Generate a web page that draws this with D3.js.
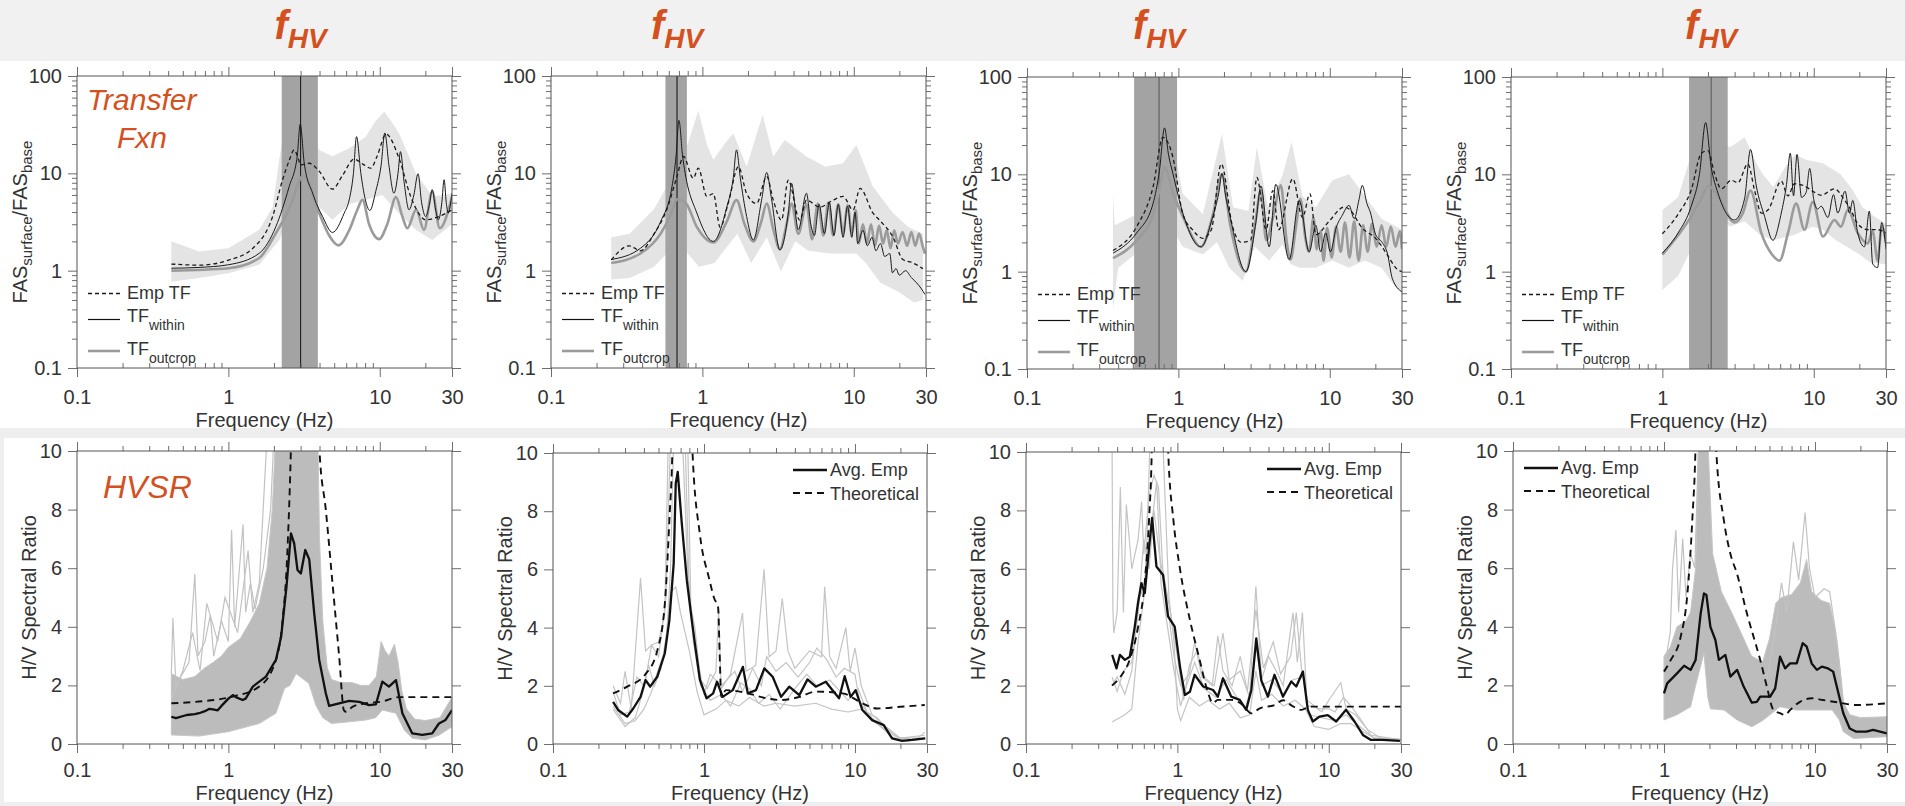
<!DOCTYPE html>
<html>
<head>
<meta charset="utf-8">
<script src="https://cdn.jsdelivr.net/npm/d3@7"></script>
<style>
  html, body { margin: 0; padding: 0; background: #fff; }
  svg { display: block; font-family: "Liberation Sans", Arial, Helvetica, sans-serif; }
</style>
</head>
<body>
<svg id="fig" width="1905" height="806"></svg>
<script>
// ---------- axis ticks ----------
const freqTicks = [0.1, 1, 10, 30];
const freqTickLabels = ["0.1", "1", "10", "30"];
const freqMinor = [0.2, 0.3, 0.4, 0.5, 0.6, 0.7, 0.8, 0.9, 2, 3, 4, 5, 6, 7, 8, 9, 20];
const tfTicks = [0.1, 1, 10, 100];
const tfTickLabels = ["0.1", "1", "10", "100"];
const tfMinor = [0.2, 0.3, 0.4, 0.5, 0.6, 0.7, 0.8, 0.9, 2, 3, 4, 5, 6, 7, 8, 9, 20, 30, 40, 50, 60, 70, 80, 90];
const hvTicks = [0, 2, 4, 6, 8, 10];
const hvTickLabels = ["0", "2", "4", "6", "8", "10"];

// ---------- site 1 : transfer functions [Hz, FAS ratio] ----------
const tf1Emp = [[0.42,1.17],[0.64,1.14],[1.0,1.28],[1.45,1.7],[1.96,3.6],[2.28,8.57],[2.52,13.5],[2.72,17.4],[2.86,15],[3.01,12.2],[3.42,12.7],[3.98,10.5],[4.87,6.87],[5.67,9.5],[6.77,14],[7.69,12.5],[8.73,11.3],[9.6,15],[11.0,25.2],[13.4,14.3],[16.0,5.78],[17.3,4.38],[20.1,3.33],[24.6,3.6],[30,4.22]];
const tf1Within = [[0.42,1.06],[0.64,1.08],[1.0,1.15],[1.6,1.51],[2.06,2.84],[2.52,7.3],[2.85,15],[2.98,32],[3.17,12.7],[3.6,6.25],[4.19,3.6],[4.87,2.47],[5.82,3.9],[6.28,5.34],[6.7,10],[7.02,23.8],[7.5,10],[8.0,5.5],[8.6,4.15],[9.4,6.5],[10.2,12],[10.8,26],[11.5,12],[12.4,6.25],[13.2,10],[13.7,16.7],[14.5,8],[15.6,4.22],[16.8,6],[17.9,9.9],[18.9,5],[20.1,3.6],[21.3,4.8],[22.2,6.8],[23.4,4.2],[24.4,3.33],[25.7,5],[26.6,8.6],[27.5,5],[28.3,3.9],[30,6.25]];
const tf1Outcrop = [[0.42,1.0],[1.0,1.06],[1.6,1.35],[2.06,2.43],[2.66,5.34],[2.9,8.0],[3.12,9.5],[3.42,7.6],[3.98,3.9],[4.63,2.3],[5.34,1.82],[6.28,2.6],[7.1,4.2],[7.69,5.34],[8.5,3.0],[9.9,2.11],[11.2,3.0],[12.8,5.69],[14.1,3.6],[15.2,2.73],[17.4,4.22],[19.6,2.63],[22.2,6.5],[24.9,2.73],[30,5.78]];
const tf1BandHi = [[0.42,2.0],[0.64,1.57],[1.0,1.7],[1.6,2.63],[1.96,4.5],[2.17,14],[2.28,22],[2.59,31.4],[2.9,30],[3.42,25.8],[3.7,19.6],[3.98,17.4],[4.87,15],[6.28,18.1],[8.09,23.8],[9.42,35],[10.7,43],[12.1,33],[13.4,25.8],[15.6,15],[17.3,10],[20.1,7.3],[22.2,5.8],[27.2,6.0],[30,6.25]];
const tf1BandLo = [[0.42,0.77],[0.64,0.84],[1.0,0.94],[1.6,1.15],[2.17,2.07],[2.66,4.56],[3.01,5.34],[3.78,4.8],[4.87,3.33],[6.28,4.8],[8.09,5.34],[10.4,6.0],[13.4,3.9],[17.3,2.63],[22.2,2.07],[30,3.0]];
const fhv1 = [3.0, 2.25, 3.9];   // f_HV, lower, upper

// ---------- site 2 ----------
const tf2Emp = [[0.25,1.29],[0.33,1.8],[0.39,1.6],[0.48,2.4],[0.58,4.2],[0.68,9.3],[0.75,14.9],[0.87,8.9],[0.94,11.3],[1.07,5.8],[1.18,6.2],[1.31,2.8],[1.48,4.9],[1.73,11.7],[1.96,6.2],[2.28,4.9],[2.66,9.3],[2.94,5.3],[3.33,3.3],[3.69,8.5],[4.4,3.3],[4.87,5.3],[5.97,4.5],[7.3,5.3],[8.5,5.8],[9.9,4.2],[11.0,7.0],[13.4,3.9],[14.8,3.3],[18.2,2.2],[21.1,1.3],[24.6,1.2],[28.6,1.05]];
const tf2Within = [[0.25,1.3],[0.39,1.7],[0.53,3.2],[0.63,7.3],[0.67,15],[0.70,35],[0.74,15],[0.77,10],[0.92,3.9],[1.18,2.0],[1.45,4.5],[1.6,9],[1.68,17.4],[1.78,9],[1.96,3.6],[2.17,2.07],[2.46,5.3],[2.66,10.2],[2.86,5.5],[3.25,1.64],[3.7,4],[3.88,7.9],[4.3,2.63],[4.87,6.25],[5.2,3.0],[5.5,2.3],[5.9,4.8],[6.4,2.4],[6.9,5.0],[7.4,2.3],[7.9,4.8],[8.5,2.2],[9.1,4.6],[9.7,2.2],[10.2,4.0],[10.6,1.9],[11.5,2.6],[12.3,1.8],[13.2,2.2],[14,1.6],[15,1.9],[16,1.4],[17.3,1.5],[18,0.95],[19,1.05],[20,0.9],[22,1.0],[24,0.85],[26,0.75],[28,0.65],[29.5,0.57]];
const tf2Outcrop = [[0.25,1.2],[0.39,1.5],[0.53,2.4],[0.62,3.8],[0.68,5.4],[0.78,4.9],[0.92,2.8],[1.18,1.95],[1.45,3.2],[1.68,5.3],[1.9,3.0],[2.17,2.0],[2.45,3.2],[2.66,4.9],[2.95,2.6],[3.25,1.65],[3.6,3.0],[3.88,4.9],[4.3,2.4],[4.87,4.8],[5.3,2.1],[5.8,4.9],[6.3,2.3],[6.8,5.0],[7.3,2.3],[7.9,4.8],[8.5,2.4],[9.1,4.7],[9.7,2.4],[10.3,4.2],[10.8,1.9],[11.5,3.0],[12.2,1.9],[13,3.0],[13.8,1.8],[14.7,2.9],[15.6,1.9],[16.5,2.6],[17.5,1.7],[18.5,2.6],[19.6,1.9],[21,2.5],[22.5,1.8],[24,2.5],[25.5,1.8],[27,2.4],[28.5,1.8],[29.5,1.5]];
const tf2BandHi = [[0.25,2.2],[0.33,2.4],[0.48,4.3],[0.58,7.3],[0.69,13.8],[0.8,20],[0.94,44],[1.07,20],[1.18,13.8],[1.4,20],[1.6,25.8],[1.96,11.7],[2.5,40],[2.94,14.9],[3.5,22],[4.87,14.9],[6.5,11.7],[8.5,12.7],[10.4,19.6],[13.4,7.3],[18.2,3.9],[23,2.8],[28.6,2.4]];
const tf2BandLo = [[0.25,0.81],[0.33,0.84],[0.48,1.1],[0.58,1.5],[0.69,2.4],[0.8,1.5],[0.95,1.1],[1.2,1.2],[1.7,2.4],[2.1,1.2],[2.66,2.2],[3.3,0.98],[4.1,2.0],[5,1.6],[7,1.5],[10.4,1.5],[12,1.2],[15,0.75],[20,0.6],[25,0.47],[28.6,0.5]];
const fhv2 = [0.68, 0.57, 0.79];

// ---------- site 3 ----------
const tf3Emp = [[0.37,1.65],[0.53,2.9],[0.68,7.4],[0.79,24],[0.92,15],[1.07,3.9],[1.24,2.7],[1.45,2.2],[1.65,2.7],[1.92,12.8],[2.28,2.9],[2.6,2.0],[3.0,2.1],[3.3,9.3],[3.8,2.7],[4.2,6.8],[4.6,2.7],[5.7,9.0],[6.6,3.6],[7.4,6.3],[8.1,2.4],[9.9,3.3],[12.4,4.6],[13.4,4.4],[16.4,2.8],[20.1,2.2],[24.6,1.4],[27.2,1.1],[30,1.0]];
const tf3Within = [[0.37,1.55],[0.53,2.5],[0.68,5.0],[0.75,11],[0.81,30],[0.86,16],[0.92,10.2],[1.07,4.0],[1.41,1.8],[1.68,3.6],[1.85,6.5],[1.94,10.2],[2.05,6],[2.17,4.0],[2.79,1.0],[3.25,3.2],[3.51,7.6],[3.98,1.8],[4.4,7.9],[5.39,1.33],[6.28,5.4],[7.31,1.6],[8.09,3.0],[8.7,1.6],[9.4,2.5],[10.1,1.6],[11,2.8],[12.1,3.8],[13.4,4.8],[14.5,3.5],[15.6,5.5],[16.4,7.7],[17.6,5.0],[18.6,4.0],[20.1,2.4],[22.2,2.0],[24,1.55],[25.9,0.85],[30,0.62]];
const tf3Outcrop = [[0.37,1.38],[0.53,2.1],[0.68,3.9],[0.75,7],[0.81,11.8],[0.92,6.5],[1.07,3.7],[1.41,1.8],[1.7,4.0],[1.94,10.0],[2.2,3.0],[2.79,1.0],[3.2,3.0],[3.51,6.8],[3.8,2.1],[4.2,3.5],[4.75,7.7],[5.2,2.0],[5.5,1.33],[6.0,3.0],[6.4,5.6],[6.9,2.2],[7.3,1.6],[7.8,3.6],[8.2,1.7],[8.7,2.6],[9.1,1.3],[9.6,2.8],[10.3,1.4],[11,2.9],[11.8,1.6],[12.6,3.2],[13.5,1.4],[14.5,3.3],[15.5,1.3],[16.6,3.0],[17.8,1.6],[19,3.1],[20.4,1.8],[22,3.0],[23.6,1.8],[25.3,2.9],[27.2,1.8],[29,2.6],[30,1.7]];
const tf3BandHi = [[0.37,6.3],[0.38,3.0],[0.53,3.9],[0.68,15],[0.79,42],[0.9,26],[1.07,6.3],[1.45,3.9],[1.94,26],[2.3,4.6],[2.9,4.2],[3.3,19],[3.9,4.6],[4.9,10],[5.6,21.6],[6.6,6.0],[8.1,4.6],[10.4,8.7],[13.4,10],[17,6],[22,3.5],[30,2.7]];
const tf3BandLo = [[0.37,0.41],[0.4,1.1],[0.53,1.55],[0.68,2.5],[0.79,3.5],[0.9,2.8],[1.07,1.8],[1.45,1.5],[1.8,2.0],[2.17,1.1],[2.66,0.8],[3.2,1.8],[3.98,1.3],[4.87,1.9],[5.5,1.2],[6.3,1.1],[8.1,1.1],[10.4,1.3],[13.4,1.1],[17,1.3],[22,1.1],[27,0.7],[30,0.6]];
const fhv3 = [0.745, 0.51, 0.98];

// ---------- site 4 ----------
const tf4Emp = [[1.0,2.45],[1.27,3.9],[1.55,6.9],[1.81,16.5],[2.0,17.5],[2.21,10.2],[2.45,7.1],[2.85,8.7],[3.15,8.2],[3.67,12.8],[4.06,6.9],[4.5,4.0],[4.98,4.3],[6.1,8.5],[6.75,6.0],[7.46,8.0],[8.68,7.6],[9.85,6.7],[11.2,6.1],[13.7,7.1],[15.9,5.5],[17.6,4.3],[19.5,3.1],[22.7,2.7],[26.4,2.7],[30,2.5]];
const tf4Within = [[1.0,1.55],[1.27,2.5],[1.55,4.7],[1.76,10.2],[1.93,34],[2.1,12],[2.33,6.4],[3.0,3.4],[3.49,5.6],[3.82,18],[4.17,7.6],[4.73,3.7],[5.37,2.1],[6.1,4.0],[6.58,7.5],[7.0,16.5],[7.35,6.0],[7.75,16],[8.3,5.8],[8.9,6.5],[9.4,11.5],[10.0,5.5],[10.6,4.4],[11.2,4.7],[12.4,3.6],[13.5,6.2],[14.4,4.0],[16.1,6.7],[17.2,4.0],[18.1,5.4],[19.5,2.5],[21.6,1.8],[23.3,4.2],[24.5,1.2],[26.4,1.1],[28.1,3.2],[30,1.7]];
const tf4Outcrop = [[1.0,1.5],[1.55,3.7],[1.8,5.6],[2.02,7.6],[2.33,6.0],[3.0,3.2],[3.4,4.0],[3.82,6.8],[4.5,2.5],[5.3,1.5],[5.94,1.3],[6.8,2.6],[7.65,5.0],[8.68,2.7],[9.85,5.2],[11.5,2.3],[13.7,3.4],[15.1,2.9],[16.8,4.3],[19.5,2.5],[22.7,1.95],[24.5,2.6],[26.4,1.3],[28.1,2.9],[30,2.0]];
const tf4BandHi = [[1.0,4.3],[1.27,5.8],[1.55,16],[1.93,45],[2.33,22],[2.8,19],[3.5,24],[4.17,13],[4.6,10],[5.4,7.4],[6.5,12],[7.5,16],[9.0,14],[11.5,13],[15,10],[18,7],[21,4.6],[25,3.7],[30,3.1]];
const tf4BandLo = [[1.0,0.65],[1.27,0.9],[1.55,1.7],[1.9,4.0],[2.33,3.7],[2.8,2.9],[3.49,3.3],[4.4,2.4],[5.4,2.1],[7.46,2.4],[9.85,2.9],[11.5,2.7],[14,2.1],[19.5,1.55],[24,1.22],[30,1.2]];
const fhv4 = [2.1, 1.5, 2.7];

// ---------- H/V spectral ratios [Hz, H/V] ----------
const hv1Avg = [[0.42,0.93],[0.45,0.88],[0.53,0.99],[0.6,1.02],[0.64,1.05],[0.7,1.12],[0.75,1.2],[0.79,1.18],[0.85,1.15],[0.9,1.3],[1.0,1.55],[1.07,1.67],[1.12,1.6],[1.24,1.5],[1.3,1.55],[1.45,1.96],[1.77,2.3],[2.06,2.87],[2.23,3.66],[2.42,5.37],[2.59,7.19],[2.72,6.85],[2.86,5.94],[3.01,5.82],[3.22,6.62],[3.42,6.3],[3.69,4.46],[3.98,2.87],[4.4,1.73],[4.63,1.3],[5.39,1.39],[6.28,1.47],[7.31,1.44],[8.51,1.33],[9.42,1.35],[10.4,2.13],[11.5,1.96],[12.8,2.18],[14.1,1.05],[16.4,0.36],[19.1,0.31],[22.2,0.36],[24.6,0.7],[27.2,0.82],[30,1.16]];
const hv1Theo = [[0.42,1.39],[0.64,1.45],[1.07,1.62],[1.6,1.96],[2.06,2.87],[2.28,4.2],[2.45,6.5],[2.6,10.5],[2.8,20],[3.1,28],[3.5,20],[4.0,10],[4.4,8.0],[4.87,5.5],[5.39,3.0],[5.8,1.15],[6.0,1.1],[6.6,1.27],[8.1,1.39],[10.4,1.45],[13.4,1.6],[30,1.6]];
const hv1CloudHi = [[0.42,2.4],[0.5,2.2],[0.6,2.3],[0.7,2.6],[0.8,2.8],[0.9,3.0],[1.0,3.3],[1.2,3.6],[1.4,4.2],[1.6,4.8],[1.8,6.0],[1.95,8.0],[2.05,10.5],[3.9,10.5],[4.0,7.0],[4.2,4.2],[4.5,2.6],[4.8,2.2],[5.5,2.1],[6.5,2.1],[7.5,2.0],[8.5,2.0],[9.5,2.3],[10.2,3.5],[10.8,3.2],[11.5,3.0],[12.5,3.4],[13.2,2.8],[14,1.8],[15,1.2],[17,0.85],[20,0.8],[25,0.9],[30,1.6]];
const hv1CloudLo = [[0.42,0.31],[0.64,0.27],[1.0,0.42],[1.6,0.7],[2.06,1.05],[2.35,1.9],[2.55,2.0],[2.8,2.4],[3.4,2.07],[3.8,1.3],[4.2,0.9],[4.8,0.7],[6.3,0.76],[8.1,0.82],[9.4,0.9],[10.4,1.16],[12.8,1.05],[14.5,0.48],[16.4,0.2],[20,0.14],[24.6,0.3],[30,0.59]];
const hv1Trace1 = [[0.42,2.4],[0.43,4.3],[0.45,2.0],[0.55,2.8],[0.6,5.8],[0.63,3.0],[0.7,3.5],[0.76,4.4],[0.8,3.0],[0.9,4.2],[1.0,3.5],[1.05,7.3],[1.1,4.0],[1.25,7.5],[1.3,4.5],[1.4,5.5],[1.5,4.6],[1.7,6.0],[1.9,8.0],[2.0,10.5]];
const hv1Trace2 = [[0.42,1.5],[0.5,2.5],[0.58,3.8],[0.65,2.5],[0.72,4.8],[0.85,3.5],[0.95,5.0],[1.15,3.8],[1.35,6.6],[1.45,4.5],[1.6,5.5],[1.8,10.5]];

const hv2Avg = [[0.25,1.45],[0.27,1.17],[0.31,0.94],[0.34,1.22],[0.38,1.62],[0.41,2.2],[0.44,1.97],[0.49,2.31],[0.55,3.11],[0.59,4.26],[0.63,6.2],[0.65,8.95],[0.67,9.35],[0.71,7.69],[0.77,5.63],[0.83,4.26],[0.87,3.46],[0.94,2.2],[1.04,1.57],[1.15,1.74],[1.22,2.14],[1.33,1.62],[1.55,1.85],[1.81,2.65],[1.95,1.74],[2.21,1.85],[2.51,2.6],[2.85,2.31],[3.24,1.62],[3.67,1.97],[4.28,1.68],[4.85,2.22],[5.5,1.97],[6.41,2.14],[7.1,1.85],[7.85,1.57],[8.55,2.33],[9.36,1.62],[10.1,1.85],[11.2,1.17],[13.0,0.82],[15.5,0.65],[17.6,0.19],[20.5,0.11],[23.9,0.14],[29.2,0.19]];
const hv2Theo = [[0.25,1.74],[0.31,1.97],[0.41,2.4],[0.49,3.2],[0.55,4.8],[0.59,7.7],[0.62,10.5],[0.68,30],[0.76,20],[0.84,10],[0.94,7.2],[1.08,5.7],[1.17,5.0],[1.24,4.7],[1.27,3.1],[1.3,1.62],[1.4,1.85],[1.95,1.74],[2.6,1.57],[3.24,1.51],[4.3,1.62],[5.5,1.8],[8.3,1.74],[11.2,1.4],[14,1.22],[20,1.28],[29,1.34]];
const hv2Trace1 = [[0.25,2.0],[0.28,1.4],[0.3,2.5],[0.33,1.2],[0.38,5.7],[0.41,3.2],[0.45,3.4],[0.5,3.0],[0.56,5.0],[0.6,10.5],[0.75,10.5],[0.8,5.0],[0.87,4.0],[0.95,2.2],[1.05,1.9],[1.2,2.5],[1.25,4.6],[1.3,1.9],[1.5,2.4],[1.8,4.5],[1.9,2.5],[2.2,2.7],[2.5,6.0],[2.7,3.0],[3.0,3.2],[3.3,5.0],[3.6,3.2],[4.0,2.6],[5.0,3.2],[6.0,3.0],[6.3,5.4],[6.8,3.0],[7.5,2.6],[8.7,4.0],[9.3,2.5],[10,3.3],[11,2.0],[13,1.0],[16,0.6],[20,0.2],[25,0.15],[29,0.4]];
const hv2Trace2 = [[0.25,1.3],[0.3,0.7],[0.35,0.8],[0.4,1.2],[0.45,1.8],[0.5,2.6],[0.55,3.2],[0.6,5.2],[0.65,5.4],[0.7,4.5],[0.8,3.2],[0.9,1.8],[1.0,1.0],[1.2,1.2],[1.4,1.5],[1.7,1.3],[2.0,1.6],[2.5,1.3],[3.0,1.4],[4.0,1.3],[5.5,1.4],[7.0,1.2],[9.0,1.1],[11,1.2],[14,0.9],[18,0.3],[22,0.1],[29,0.2]];
const hv2Trace3 = [[0.25,1.2],[0.3,0.6],[0.35,0.9],[0.4,1.9],[0.45,3.4],[0.5,3.5],[0.55,4.5],[0.58,10.5],[0.78,10.5],[0.82,4.5],[0.9,3.0],[1.0,1.7],[1.1,2.4],[1.3,2.0],[1.6,2.5],[1.8,1.8],[2.1,2.6],[2.4,2.0],[2.6,3.0],[3.0,2.5],[3.5,2.8],[4.2,2.3],[5,2.8],[5.6,3.3],[6.5,2.9],[7.5,2.3],[8.5,2.6],[10,2.4],[10.7,1.5],[13,0.8],[16,0.5],[20,0.2],[29,0.3]];
const hv2Trace4 = [[0.25,1.8],[0.28,1.0],[0.32,1.1],[0.36,2.3],[0.4,2.0],[0.43,2.7],[0.47,2.0],[0.52,2.6],[0.57,3.9],[0.6,6.0],[0.63,10.5],[0.72,10.5],[0.78,6],[0.85,3.5],[0.95,2.0],[1.1,1.5],[1.3,1.7],[1.5,1.3],[1.75,2.1],[2.0,1.9],[2.3,1.4],[2.7,1.7],[3.2,1.2],[4.0,1.9],[4.8,2.4],[5.6,2.0],[6.8,2.2],[8,1.8],[9,1.5],[10.5,1.9],[12,1.1],[14,0.7],[18,0.2],[29,0.2]];

const hv3Avg = [[0.371,3.05],[0.396,2.59],[0.417,3.05],[0.45,2.88],[0.485,2.99],[0.523,4.02],[0.551,4.88],[0.579,5.51],[0.609,5.17],[0.651,6.77],[0.681,7.74],[0.727,6.08],[0.804,5.79],[0.867,4.37],[0.96,4.02],[1.04,2.65],[1.12,1.68],[1.21,1.79],[1.30,2.37],[1.48,1.97],[1.72,1.85],[1.85,1.62],[2.0,2.25],[2.27,1.62],[2.58,1.51],[2.85,1.17],[3.08,1.85],[3.32,3.62],[3.58,2.19],[3.96,1.62],[4.38,2.37],[4.98,1.62],[5.65,2.14],[6.1,1.97],[6.75,2.48],[7.27,1.17],[7.85,0.77],[8.68,0.94],[9.85,0.99],[11.2,0.77],[13.0,1.17],[14.8,0.77],[16.8,0.31],[19.0,0.14],[22.7,0.14],[29.5,0.11]];
const hv3Theo = [[0.37,2.0],[0.42,2.3],[0.485,2.9],[0.55,4.0],[0.61,5.6],[0.65,7.7],[0.68,10.5],[0.73,30],[0.8,20],[0.87,10],[0.94,7.7],[1.04,6.0],[1.21,4.25],[1.4,2.9],[1.55,1.97],[1.72,1.4],[1.85,1.51],[2.27,1.51],[2.7,1.34],[3.08,1.05],[3.5,1.22],[4.4,1.34],[5.0,1.5],[5.6,1.34],[6.6,1.17],[7.5,1.28],[30,1.28]];
const hv3Trace1 = [[0.37,10.5],[0.375,4.6],[0.38,3.8],[0.4,4.5],[0.42,8.8],[0.44,4.5],[0.46,8.2],[0.5,6.0],[0.55,7.0],[0.58,8.3],[0.6,6.5],[0.65,8.5],[0.7,9.2],[0.75,8.8],[0.8,6.0],[0.9,4.5],[1.0,3.0],[1.1,1.5],[1.2,2.7],[1.35,3.2],[1.5,2.3],[1.75,2.0],[2.0,3.8],[2.2,2.2],[2.6,2.5],[3.0,1.6],[3.3,5.4],[3.6,2.2],[4.0,3.0],[4.5,2.5],[5.0,2.0],[5.8,4.5],[6.2,2.8],[6.7,4.5],[7.2,1.3],[8,1.3],[9,1.1],[10,1.5],[12,2.1],[13,1.2],[15,1.0],[18,0.5],[22,0.2],[30,0.15]];
const hv3Trace2 = [[0.37,0.75],[0.45,1.0],[0.5,1.2],[0.55,3.5],[0.6,5.0],[0.63,7.0],[0.66,10.5],[0.8,10.5],[0.88,5],[0.95,3.5],[1.0,1.2],[1.05,0.8],[1.2,1.6],[1.4,1.3],[1.6,1.5],[1.9,1.2],[2.2,1.4],[2.6,0.9],[3.0,1.0],[3.3,2.5],[3.6,1.5],[4.2,1.7],[5.0,1.3],[6,1.5],[7,1.2],[8,0.6],[10,0.5],[12,0.7],[14,0.7],[17,0.4],[20,0.2],[30,0.15]];
const hv3Trace3 = [[0.37,2.3],[0.4,1.8],[0.44,2.5],[0.5,2.8],[0.55,4.5],[0.6,7.0],[0.65,6.0],[0.7,8.0],[0.76,6.5],[0.85,5.0],[0.95,3.0],[1.05,2.0],[1.2,2.4],[1.3,3.5],[1.45,2.3],[1.7,2.0],[1.85,3.7],[2.0,2.5],[2.3,2.0],[2.6,3.0],[2.9,1.8],[3.3,4.6],[3.7,2.6],[4.3,3.5],[4.8,2.4],[5.6,3.0],[6.1,4.5],[6.6,2.6],[7.2,1.5],[8.5,1.2],[10,1.2],[11,1.1],[12.5,1.6],[14,1.3],[16,0.9],[19,0.3],[30,0.15]];
const hv3Trace4 = [[0.37,2.0],[0.4,2.3],[0.45,1.7],[0.5,2.5],[0.56,5.0],[0.62,5.5],[0.68,7.6],[0.73,9.0],[0.78,5.5],[0.85,4.2],[0.95,2.5],[1.05,1.3],[1.15,2.0],[1.3,2.8],[1.5,1.9],[1.8,1.6],[2.1,2.2],[2.4,1.7],[2.8,1.2],[3.1,2.0],[3.3,3.4],[3.6,2.0],[4.2,2.2],[5,1.7],[5.8,2.2],[6.8,2.3],[7.4,1.0],[9,0.9],[11,0.8],[13,1.0],[16,0.6],[20,0.2],[30,0.15]];

const hv4Avg = [[1.0,1.73],[1.05,2.07],[1.22,2.41],[1.36,2.67],[1.5,2.53],[1.62,2.87],[1.75,4.46],[1.84,5.14],[1.91,5.09],[2.03,4.0],[2.19,3.55],[2.31,2.87],[2.55,3.04],[2.75,2.3],[3.05,2.53],[3.37,1.96],[3.82,1.41],[4.12,1.44],[4.34,1.62],[5.05,1.62],[5.45,1.9],[5.87,2.98],[6.34,2.58],[6.84,2.75],[7.57,2.75],[8.29,3.44],[8.82,3.32],[9.51,2.75],[10.3,2.53],[11.1,2.64],[12.2,2.58],[13.2,2.47],[14.3,1.73],[15.4,1.05],[17.0,0.53],[18.8,0.42],[21.9,0.42],[24.3,0.48],[30,0.36]];
const hv4Theo = [[1.0,2.47],[1.11,2.87],[1.29,3.66],[1.43,5.14],[1.54,7.65],[1.62,10.3],[1.8,30],[2.0,25],[2.22,10],[2.49,7.65],[2.75,6.5],[3.05,5.8],[3.54,4.46],[3.92,3.66],[4.34,2.87],[4.8,1.96],[5.31,1.16],[5.87,1.05],[6.34,0.99],[6.84,1.16],[7.96,1.44],[9.51,1.56],[11.3,1.5],[14.6,1.41],[18.8,1.33],[30,1.39]];
const hv4CloudHi = [[1.0,3.0],[1.1,3.3],[1.22,4.0],[1.4,4.2],[1.5,4.5],[1.62,6.0],[1.7,10.5],[1.95,10.5],[2.1,6.5],[2.4,5.2],[2.8,4.5],[3.3,3.7],[3.8,3.0],[4.5,2.8],[5.0,3.6],[5.5,4.8],[6.0,5.0],[7.0,5.1],[8.0,5.5],[8.8,6.3],[9.5,5.2],[11,4.9],[12.5,4.8],[13.5,4.0],[14.5,2.8],[15.5,1.4],[17,1.0],[20,0.9],[30,0.93]];
const hv4CloudLo = [[1.0,0.82],[1.22,1.0],[1.5,1.27],[1.62,2.0],[1.84,3.1],[1.95,1.6],[2.03,1.2],[2.5,1.16],[3.05,0.82],[3.82,0.59],[4.5,0.8],[5.87,1.27],[7.57,1.16],[10.3,1.16],[13,1.16],[14.5,0.82],[15.4,0.42],[18,0.19],[30,0.25]];
const hv4Trace1 = [[1.0,2.5],[1.1,3.8],[1.14,6.0],[1.2,7.3],[1.25,4.5],[1.33,7.0],[1.4,5.0],[1.5,6.5],[1.6,6.0],[1.7,10.5]];
const hv4Trace2 = [[4.8,2.2],[5.5,4.0],[6.0,5.5],[6.5,4.5],[7.2,6.9],[7.8,5.6],[8.6,7.9],[9.2,6.0],[10,5.0],[11.5,5.3],[12.5,5.2],[14,3.5],[15,2.0]];

// ---------- layout ----------
const W = 1905, H = 806;
const FONT = '"Liberation Sans", Arial, Helvetica, sans-serif';
const ORANGE = "#d4511f";
const INK = "#333";

const topFrames = [
  { l: 77,   r: 452,  t: 76, b: 368 },
  { l: 551,  r: 926,  t: 76, b: 368 },
  { l: 1027, r: 1402, t: 77, b: 369 },
  { l: 1511, r: 1886, t: 77, b: 369 }
];
const botFrames = [
  { l: 77,   r: 452,  t: 451, b: 744 },
  { l: 553,  r: 927,  t: 453, b: 744 },
  { l: 1026, r: 1401, t: 452, b: 744 },
  { l: 1513, r: 1887, t: 451, b: 744 }
];

const svg = d3.select("#fig");

// backdrop bands
svg.append("rect").attr("x", 0).attr("y", 0).attr("width", W).attr("height", 61).attr("fill", "#f1f1f1");
svg.append("rect").attr("x", 0).attr("y", 428).attr("width", W).attr("height", H - 428).attr("fill", "#eeeeee");
svg.append("rect").attr("x", 4).attr("y", 438).attr("width", W - 4).attr("height", 364).attr("fill", "#ffffff");

const defs = svg.append("defs");
let clipCount = 0;
function clipFor(fr) {
  const id = "plotclip" + (clipCount++);
  defs.append("clipPath").attr("id", id).append("rect")
    .attr("x", fr.l).attr("y", fr.t).attr("width", fr.r - fr.l).attr("height", fr.b - fr.t);
  return `url(#${id})`;
}

function freqScale(fr) { return d3.scaleLog().domain([0.1, 30]).range([fr.l, fr.r]); }

function drawAxes(fr, x, y, cfg) {
  const g = svg.append("g");
  const put = (axis, tx, ty) => g.append("g").attr("transform", `translate(${tx},${ty})`).call(axis);
  put(d3.axisBottom(x).tickValues(freqMinor).tickFormat("").tickSizeInner(cfg.bottomMinorIn ? -5 : 5).tickSizeOuter(0), 0, fr.b);
  put(d3.axisTop(x).tickValues(freqMinor).tickFormat("").tickSizeInner(5).tickSizeOuter(0), 0, fr.t);
  const xb = put(d3.axisBottom(x).tickValues(freqTicks).tickFormat((d, i) => freqTickLabels[i]).tickSizeInner(9).tickSizeOuter(0), 0, fr.b);
  xb.selectAll("text").attr("y", cfg.xLabelY).attr("dy", null);
  put(d3.axisTop(x).tickValues(freqTicks).tickFormat("").tickSizeInner(9).tickSizeOuter(0), 0, fr.t);
  if (cfg.yMinor) {
    put(d3.axisLeft(y).tickValues(cfg.yMinor).tickFormat("").tickSizeInner(5).tickSizeOuter(0), fr.l, 0);
    put(d3.axisRight(y).tickValues(cfg.yMinor).tickFormat("").tickSizeInner(5).tickSizeOuter(0), fr.r, 0);
  }
  const yl = put(d3.axisLeft(y).tickValues(cfg.yTicks).tickFormat((d, i) => cfg.yLabels[i]).tickSizeInner(9).tickSizeOuter(0), fr.l, 0);
  yl.selectAll("text").attr("x", -cfg.yLabelGap);
  put(d3.axisRight(y).tickValues(cfg.yTicks).tickFormat("").tickSizeInner(9).tickSizeOuter(0), fr.r, 0);

  g.selectAll(".domain").remove();
  g.selectAll("g").attr("font-family", null).attr("font-size", null);
  g.selectAll(".tick line").attr("stroke", "#6e6e6e").attr("stroke-width", 1);
  g.selectAll(".tick text").attr("fill", INK).style("font-family", FONT).style("font-size", "20px");

  g.append("rect").attr("x", fr.l).attr("y", fr.t).attr("width", fr.r - fr.l).attr("height", fr.b - fr.t)
    .attr("fill", "none").attr("stroke", "#555").attr("stroke-width", 1);

  g.append("text").attr("x", (fr.l + fr.r) / 2).attr("y", fr.b + cfg.titleDy)
    .attr("text-anchor", "middle").attr("fill", INK).style("font-size", "20px").text("Frequency (Hz)");
}

function bandPath(x, y, hi, lo) {
  const pts = hi.concat(lo.slice().reverse());
  return d3.line().x(d => x(d[0])).y(d => y(d[1]))(pts) + "Z";
}

// ---------- transfer-function row ----------
const tfPanels = [
  { emp: tf1Emp, within: tf1Within, outcrop: tf1Outcrop, hi: tf1BandHi, lo: tf1BandLo, fhv: fhv1, fhvStroke: "#111", fhvWidth: 1 },
  { emp: tf2Emp, within: tf2Within, outcrop: tf2Outcrop, hi: tf2BandHi, lo: tf2BandLo, fhv: fhv2, fhvStroke: "#444", fhvWidth: 1.6 },
  { emp: tf3Emp, within: tf3Within, outcrop: tf3Outcrop, hi: tf3BandHi, lo: tf3BandLo, fhv: fhv3, fhvStroke: "#555", fhvWidth: 1 },
  { emp: tf4Emp, within: tf4Within, outcrop: tf4Outcrop, hi: tf4BandHi, lo: tf4BandLo, fhv: fhv4, fhvStroke: "#555", fhvWidth: 1 }
];

tfPanels.forEach((p, i) => {
  const fr = topFrames[i];
  const x = freqScale(fr);
  const y = d3.scaleLog().domain([0.1, 100]).range([fr.b, fr.t]);
  const line = d3.line().x(d => x(d[0])).y(d => y(d[1])).curve(d3.curveMonotoneX);
  const plot = svg.append("g").attr("clip-path", clipFor(fr));

  plot.append("path").attr("d", bandPath(x, y, p.hi, p.lo)).attr("fill", "#e4e4e4");
  plot.append("rect").attr("x", x(p.fhv[1])).attr("y", fr.t)
    .attr("width", x(p.fhv[2]) - x(p.fhv[1])).attr("height", fr.b - fr.t).attr("fill", "#a3a3a3");
  plot.append("line").attr("x1", x(p.fhv[0])).attr("x2", x(p.fhv[0])).attr("y1", fr.t).attr("y2", fr.b)
    .attr("stroke", p.fhvStroke).attr("stroke-width", p.fhvWidth);

  plot.append("path").attr("d", line(p.outcrop)).attr("fill", "none").attr("stroke", "#9b9b9b").attr("stroke-width", 2.6);
  plot.append("path").attr("d", line(p.within)).attr("fill", "none").attr("stroke", "#1a1a1a").attr("stroke-width", 1);
  plot.append("path").attr("d", line(p.emp)).attr("fill", "none").attr("stroke", "#1a1a1a")
    .attr("stroke-width", 1.3).attr("stroke-dasharray", "4,3");

  drawAxes(fr, x, y, { bottomMinorIn: true, xLabelY: 36, titleDy: 59, yTicks: tfTicks, yLabels: tfTickLabels, yMinor: tfMinor, yLabelGap: 15 });

  // y label with subscripts
  const yt = svg.append("text").attr("transform", `translate(${fr.l - 50},${(fr.t + fr.b) / 2}) rotate(-90)`)
    .attr("text-anchor", "middle").attr("fill", INK).style("font-size", "20px");
  yt.append("tspan").text("FAS");
  yt.append("tspan").attr("dy", 5).style("font-size", "15px").text("surface");
  yt.append("tspan").attr("dy", -5).text("/FAS");
  yt.append("tspan").attr("dy", 5).style("font-size", "15px").text("base");

  // legend
  const lg = svg.append("g");
  const lx0 = fr.l + 11, lx1 = fr.l + 43, tx = fr.l + 50;
  lg.append("line").attr("x1", lx0).attr("x2", lx1).attr("y1", fr.t + 217.5).attr("y2", fr.t + 217.5)
    .attr("stroke", "#1a1a1a").attr("stroke-width", 1.3).attr("stroke-dasharray", "4,3");
  lg.append("text").attr("x", tx).attr("y", fr.t + 223).attr("fill", INK).style("font-size", "18px").text("Emp TF");
  lg.append("line").attr("x1", lx0).attr("x2", lx1).attr("y1", fr.t + 243.5).attr("y2", fr.t + 243.5)
    .attr("stroke", "#111").attr("stroke-width", 1.2);
  const t2 = lg.append("text").attr("x", tx).attr("y", fr.t + 246).attr("fill", INK).style("font-size", "18px");
  t2.append("tspan").text("TF");
  t2.append("tspan").attr("dy", 8).style("font-size", "14px").text("within");
  lg.append("line").attr("x1", lx0).attr("x2", lx1).attr("y1", fr.t + 275).attr("y2", fr.t + 275)
    .attr("stroke", "#9b9b9b").attr("stroke-width", 2.6);
  const t3 = lg.append("text").attr("x", tx).attr("y", fr.t + 279).attr("fill", INK).style("font-size", "18px");
  t3.append("tspan").text("TF");
  t3.append("tspan").attr("dy", 8).style("font-size", "14px").text("outcrop");

  // f_HV heading
  const fl = svg.append("text").attr("x", x(p.fhv[0])).attr("y", 39).attr("text-anchor", "middle")
    .attr("fill", ORANGE).style("font-weight", "bold").style("font-style", "italic");
  fl.append("tspan").style("font-size", "40px").text("f");
  fl.append("tspan").attr("dy", 9).style("font-size", "28px").text("HV");
});

// row caption
const cap = svg.append("text").attr("fill", ORANGE).style("font-style", "italic").style("font-size", "30px");
cap.append("tspan").attr("x", topFrames[0].l + 10).attr("y", topFrames[0].t + 34).text("Transfer");
cap.append("tspan").attr("x", topFrames[0].l + 40).attr("y", topFrames[0].t + 72).text("Fxn");

// ---------- H/V row ----------
const hvPanels = [
  { avg: hv1Avg, theo: hv1Theo, cloud: [hv1CloudHi, hv1CloudLo], traces: [hv1Trace1, hv1Trace2], legend: null },
  { avg: hv2Avg, theo: hv2Theo, cloud: null, traces: [hv2Trace1, hv2Trace2, hv2Trace3, hv2Trace4], legend: "right" },
  { avg: hv3Avg, theo: hv3Theo, cloud: null, traces: [hv3Trace1, hv3Trace2, hv3Trace3, hv3Trace4], legend: "right" },
  { avg: hv4Avg, theo: hv4Theo, cloud: [hv4CloudHi, hv4CloudLo], traces: [hv4Trace1, hv4Trace2], legend: "left" }
];

hvPanels.forEach((p, i) => {
  const fr = botFrames[i];
  const x = freqScale(fr);
  const y = d3.scaleLinear().domain([0, 10]).range([fr.b, fr.t]);
  const jag = d3.line().x(d => x(d[0])).y(d => y(d[1]));
  const smooth = d3.line().x(d => x(d[0])).y(d => y(d[1])).curve(d3.curveMonotoneX);
  const plot = svg.append("g").attr("clip-path", clipFor(fr));

  if (p.cloud) {
    plot.append("path").attr("d", bandPath(x, y, p.cloud[0], p.cloud[1]))
      .attr("fill", "#bcbcbc").attr("stroke", "#c6c6c6").attr("stroke-width", 1);
  }
  p.traces.forEach(tr => {
    plot.append("path").attr("d", jag(tr)).attr("fill", "none")
      .attr("stroke", p.cloud ? "#c2c2c2" : "#c4c4c4").attr("stroke-width", 1.2);
  });
  plot.append("path").attr("d", smooth(p.theo)).attr("fill", "none").attr("stroke", "#111")
    .attr("stroke-width", 1.9).attr("stroke-dasharray", "7,5");
  plot.append("path").attr("d", jag(p.avg)).attr("fill", "none").attr("stroke", "#111")
    .attr("stroke-width", 2.3).attr("stroke-linejoin", "round");

  drawAxes(fr, x, y, { bottomMinorIn: false, xLabelY: 33, titleDy: 56, yTicks: hvTicks, yLabels: hvTickLabels, yMinor: null, yLabelGap: 15 });

  svg.append("text").attr("transform", `translate(${fr.l - 41},${(fr.t + fr.b) / 2}) rotate(-90)`)
    .attr("text-anchor", "middle").attr("fill", INK).style("font-size", "20px").text("H/V Spectral Ratio");

  if (p.legend) {
    const lx0 = p.legend === "right" ? fr.r - 134 : fr.l + 11;
    const lx1 = lx0 + 34;
    const lg = svg.append("g");
    lg.append("line").attr("x1", lx0).attr("x2", lx1).attr("y1", fr.t + 17).attr("y2", fr.t + 17)
      .attr("stroke", "#111").attr("stroke-width", 2.3);
    lg.append("text").attr("x", lx1 + 3).attr("y", fr.t + 23).attr("fill", INK).style("font-size", "18px").text("Avg. Emp");
    lg.append("line").attr("x1", lx0).attr("x2", lx1).attr("y1", fr.t + 40).attr("y2", fr.t + 40)
      .attr("stroke", "#111").attr("stroke-width", 1.9).attr("stroke-dasharray", "7,5");
    lg.append("text").attr("x", lx1 + 3).attr("y", fr.t + 47).attr("fill", INK).style("font-size", "18px").text("Theoretical");
  }
});

svg.append("text").attr("x", botFrames[0].l + 26).attr("y", botFrames[0].t + 47)
  .attr("fill", ORANGE).style("font-style", "italic").style("font-size", "32px").text("HVSR");
</script>
</body>
</html>
